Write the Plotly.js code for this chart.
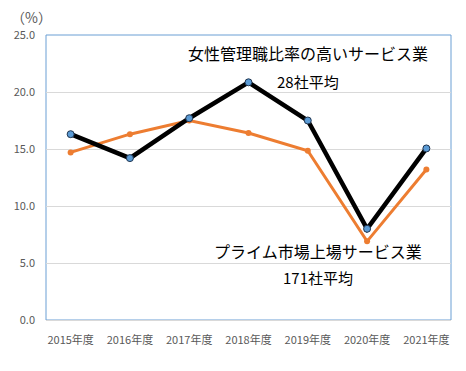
<!DOCTYPE html>
<html><head><meta charset="utf-8">
<script src="https://cdn.plot.ly/plotly-3.0.1.min.js"></script>
<style>html,body{margin:0;padding:0;background:#fff}#chart{width:466px;height:371px}</style>
</head><body><div id="chart"></div>
<script>
const categories = ["2015年度","2016年度","2017年度","2018年度","2019年度","2020年度","2021年度"];
const highRatio28 = [16.3, 14.2, 17.7, 20.85, 17.5, 8.0, 15.05];
const prime171 = [14.7, 16.3, 17.5, 16.4, 14.85, 6.9, 13.2];
const yTicks = [0, 5, 10, 15, 20, 25];
const seriesLabels = ["女性管理職比率の高いサービス業", "28社平均", "プライム市場上場サービス業", "171社平均"];
const unitLabel = "（%）";

const font = "'Noto Sans CJK JP', 'Noto Sans', sans-serif";
const traces = [
  {x: categories, y: prime171, type: 'scatter', mode: 'lines+markers',
   line: {color: '#ED7D31', width: 3}, marker: {color: '#ED7D31', size: 6}},
  {x: categories, y: highRatio28, type: 'scatter', mode: 'lines+markers',
   line: {color: '#000000', width: 4.5}, marker: {color: '#5B9BD5', size: 7, line: {color: '#1f3550', width: 1}}}
];
const layout = {
  width: 466, height: 371,
  margin: {l: 46, r: 15, t: 35, b: 51},
  showlegend: false,
  paper_bgcolor: '#fff', plot_bgcolor: '#fff',
  font: {family: font, color: '#595959'},
  xaxis: {type: 'category', tickfont: {size: 11, color: '#595959'}, showgrid: false,
    showline: true, linecolor: '#d9d9d9', linewidth: 1, ticks: '', zeroline: false, fixedrange: true,
    ticklabelstandoff: 10},
  yaxis: {range: [0, 25], tickvals: yTicks, tickformat: '.1f', tickfont: {size: 11, color: '#595959'},
    gridcolor: '#d9d9d9', showline: false, zeroline: false, ticks: '', ticklen: 0, fixedrange: true,
    ticklabelstandoff: 10},
  shapes: [{type: 'rect', xref: 'paper', yref: 'paper', x0: 0, x1: 1, y0: 0, y1: 1,
    line: {color: '#6A9FD4', width: 1}, fillcolor: 'rgba(0,0,0,0)', layer: 'below'}],
  annotations: [
    {x: 4.01, y: 23.4, xref: 'x', yref: 'y', text: seriesLabels[0], showarrow: false, font: {size: 16, color: '#000', family: font}},
    {x: 4.0, y: 20.9, xref: 'x', yref: 'y', text: seriesLabels[1], showarrow: false, font: {size: 15, color: '#000', family: font}},
    {x: 4.18, y: 6.05, xref: 'x', yref: 'y', text: seriesLabels[2], showarrow: false, font: {size: 16, color: '#000', family: font}},
    {x: 4.17, y: 3.7, xref: 'x', yref: 'y', text: seriesLabels[3], showarrow: false, font: {size: 15, color: '#000', family: font}},
    {x: -0.035, y: 1.063, xref: 'paper', yref: 'paper', xanchor: 'center', yanchor: 'middle', text: unitLabel, showarrow: false, font: {size: 14, color: '#595959', family: font}}
  ]
};
Plotly.newPlot('chart', traces, layout, {displayModeBar: false, staticPlot: true});
</script></body></html>
